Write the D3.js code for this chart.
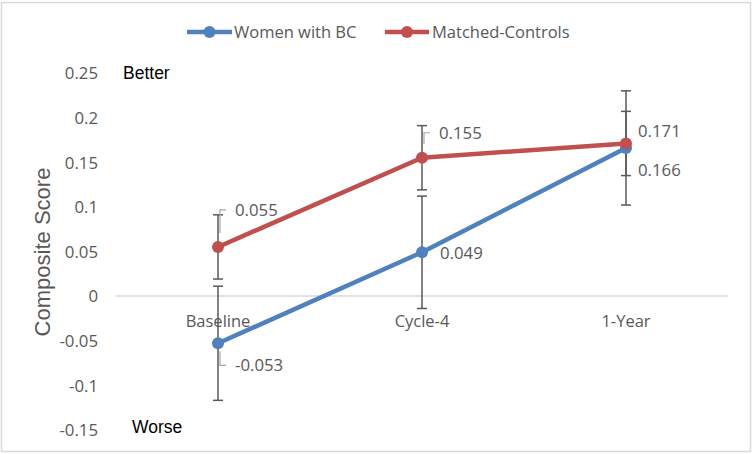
<!DOCTYPE html>
<html>
<head>
<meta charset="utf-8">
<script src="https://cdn.jsdelivr.net/npm/d3@7"></script>
<style>
  html, body { margin: 0; padding: 0; background: #fff; }
  svg { display: block; }
</style>
</head>
<body>
<svg id="chart" width="752" height="454"></svg>
<script>
// ---- data ----
const categories = ["Baseline", "Cycle-4", "1-Year"];
const seriesNames = ["Women with BC", "Matched-Controls"];
const bcValues = [-0.053, 0.049, 0.166];
const bcErrors = [0.064, 0.063, 0.064];
const mcValues = [0.055, 0.155, 0.171];
const mcErrors = [0.036, 0.036, 0.036];
const yTicks = [-0.15, -0.1, -0.05, 0, 0.05, 0.1, 0.15, 0.2, 0.25];
const yTickLabels = ["-0.15", "-0.1", "-0.05", "0", "0.05", "0.1", "0.15", "0.2", "0.25"];
const bcLabels = ["-0.053", "0.049", "0.166"];
const mcLabels = ["0.055", "0.155", "0.171"];
const axisTitle = "Composite Score";
const topNote = "Better";
const bottomNote = "Worse";

// ---- layout / style ----
const colors = { bc: "#4F81BD", mc: "#C0504D" };
const textColor = "#595959";
const fontMain = "'Open Sans', 'Liberation Sans', sans-serif";
const svg = d3.select("#chart");

// chart border
svg.append("rect").attr("x", 1.5).attr("y", 2.5).attr("width", 749).attr("height", 449)
  .attr("fill", "#fff").attr("stroke", "#d9d9d9").attr("stroke-width", 1.5);

const x = d3.scaleBand().domain(categories).range([116, 728]).padding(0);
const cx = c => x(c) + x.bandwidth() / 2;
const y = d3.scaleLinear().domain([-0.15, 0.25]).range([429.8, 73.0]);

// y axis (labels only)
const yAxis = d3.axisLeft(y).tickValues(yTicks)
  .tickFormat((d, i) => yTickLabels[i]).tickSize(0).tickPadding(0);
const yg = svg.append("g").attr("transform", "translate(98,0)").call(yAxis);
yg.select(".domain").remove();
yg.selectAll("text").attr("fill", textColor).style("font-family", fontMain)
  .style("font-size", "16.8px").attr("dy", "0.35em");

// zero (category) axis line
svg.append("line").attr("x1", 116).attr("x2", 728).attr("y1", y(0)).attr("y2", y(0))
  .attr("stroke", "#d9d9d9").attr("stroke-width", 1.3);

// category labels
const xAxis = d3.axisBottom(x).tickSize(0).tickPadding(0);
const xg = svg.append("g").attr("transform", `translate(0,${y(0)})`).call(xAxis);
xg.select(".domain").remove();
xg.selectAll("text").attr("fill", textColor).style("font-family", fontMain)
  .style("font-size", "16.5px").attr("y", 25).attr("dy", "0.35em");

// axis title
svg.append("text").attr("transform", "translate(42,252) rotate(-90)")
  .attr("text-anchor", "middle").attr("dy", "0.35em")
  .attr("fill", textColor).style("font-family", "'Liberation Sans', Arial, sans-serif")
  .style("font-size", "22px").text(axisTitle);

// Better / Worse notes
svg.append("text").attr("x", 123).attr("y", y(0.25)).attr("dy", "0.35em")
  .style("font-family", "'Liberation Sans', Arial, sans-serif").style("font-size", "17.5px")
  .attr("fill", "#000").text(topNote);
svg.append("text").attr("x", 132).attr("y", y(-0.15) - 3).attr("dy", "0.35em")
  .style("font-family", "'Liberation Sans', Arial, sans-serif").style("font-size", "17.5px")
  .attr("fill", "#000").text(bottomNote);

const series = [
  { key: "bc", values: bcValues, errors: bcErrors, labels: bcLabels },
  { key: "mc", values: mcValues, errors: mcErrors, labels: mcLabels }
];

// error bars
const eg = svg.append("g");
series.forEach(s => {
  s.values.forEach((v, i) => {
    const px = cx(categories[i]);
    const yt = y(v + s.errors[i]), yb = y(v - s.errors[i]);
    eg.append("line").attr("x1", px).attr("x2", px).attr("y1", yt).attr("y2", yb)
      .attr("stroke", textColor).attr("stroke-width", 1.5);
    [yt, yb].forEach(yy => eg.append("line").attr("x1", px - 5).attr("x2", px + 5)
      .attr("y1", yy).attr("y2", yy).attr("stroke", textColor).attr("stroke-width", 1.5));
  });
});

// lines
const line = d3.line().x((d, i) => cx(categories[i])).y(d => y(d));
series.forEach(s => {
  svg.append("path").datum(s.values).attr("d", line).attr("fill", "none")
    .attr("stroke", colors[s.key]).attr("stroke-width", 4.5).attr("stroke-linejoin", "round");
});
series.forEach(s => {
  svg.append("g").selectAll("circle").data(s.values).join("circle")
    .attr("cx", (d, i) => cx(categories[i])).attr("cy", d => y(d)).attr("r", 6)
    .attr("fill", colors[s.key]);
});

// data labels: placement offsets relative to each point (layout, not data)
const labelPlacement = {
  bc: [{ dx: 17, dy: 22, leader: "down" }, { dx: 18, dy: 1 }, { dx: 12, dy: 22 }],
  mc: [{ dx: 17, dy: -37, leader: "up" }, { dx: 17, dy: -25, leader: "up" }, { dx: 12, dy: -12 }]
};
series.forEach(s => {
  s.values.forEach((v, i) => {
    const px = cx(categories[i]), py = y(v);
    const p = labelPlacement[s.key][i];
    const ly = py + p.dy;
    if (p.leader === "up") {
      svg.append("polyline")
        .attr("points", `${px + 2},${py - 14} ${px + 2},${ly} ${px + 8},${ly}`)
        .attr("fill", "none").attr("stroke", "#a6a6a6").attr("stroke-width", 1.2);
    } else if (p.leader === "down") {
      svg.append("polyline")
        .attr("points", `${px + 2},${py + 8} ${px + 2},${ly} ${px + 8},${ly}`)
        .attr("fill", "none").attr("stroke", "#a6a6a6").attr("stroke-width", 1.2);
    }
    svg.append("text").attr("x", px + p.dx).attr("y", ly).attr("dy", "0.35em")
      .attr("fill", textColor).style("font-family", fontMain).style("font-size", "16.8px")
      .text(s.labels[i]);
  });
});

// legend
const legendItems = [
  { key: "bc", name: seriesNames[0], x0: 187, x1: 232, tx: 234 },
  { key: "mc", name: seriesNames[1], x0: 385, x1: 429, tx: 432 }
];
const lg = svg.append("g");
legendItems.forEach(it => {
  lg.append("line").attr("x1", it.x0).attr("x2", it.x1).attr("y1", 32).attr("y2", 32)
    .attr("stroke", colors[it.key]).attr("stroke-width", 4.5);
  lg.append("circle").attr("cx", (it.x0 + it.x1) / 2).attr("cy", 32).attr("r", 6)
    .attr("fill", colors[it.key]);
  lg.append("text").attr("x", it.tx).attr("y", 32).attr("dy", "0.35em")
    .attr("fill", textColor).style("font-family", fontMain).style("font-size", "16.5px")
    .text(it.name);
});
</script>
</body>
</html>
